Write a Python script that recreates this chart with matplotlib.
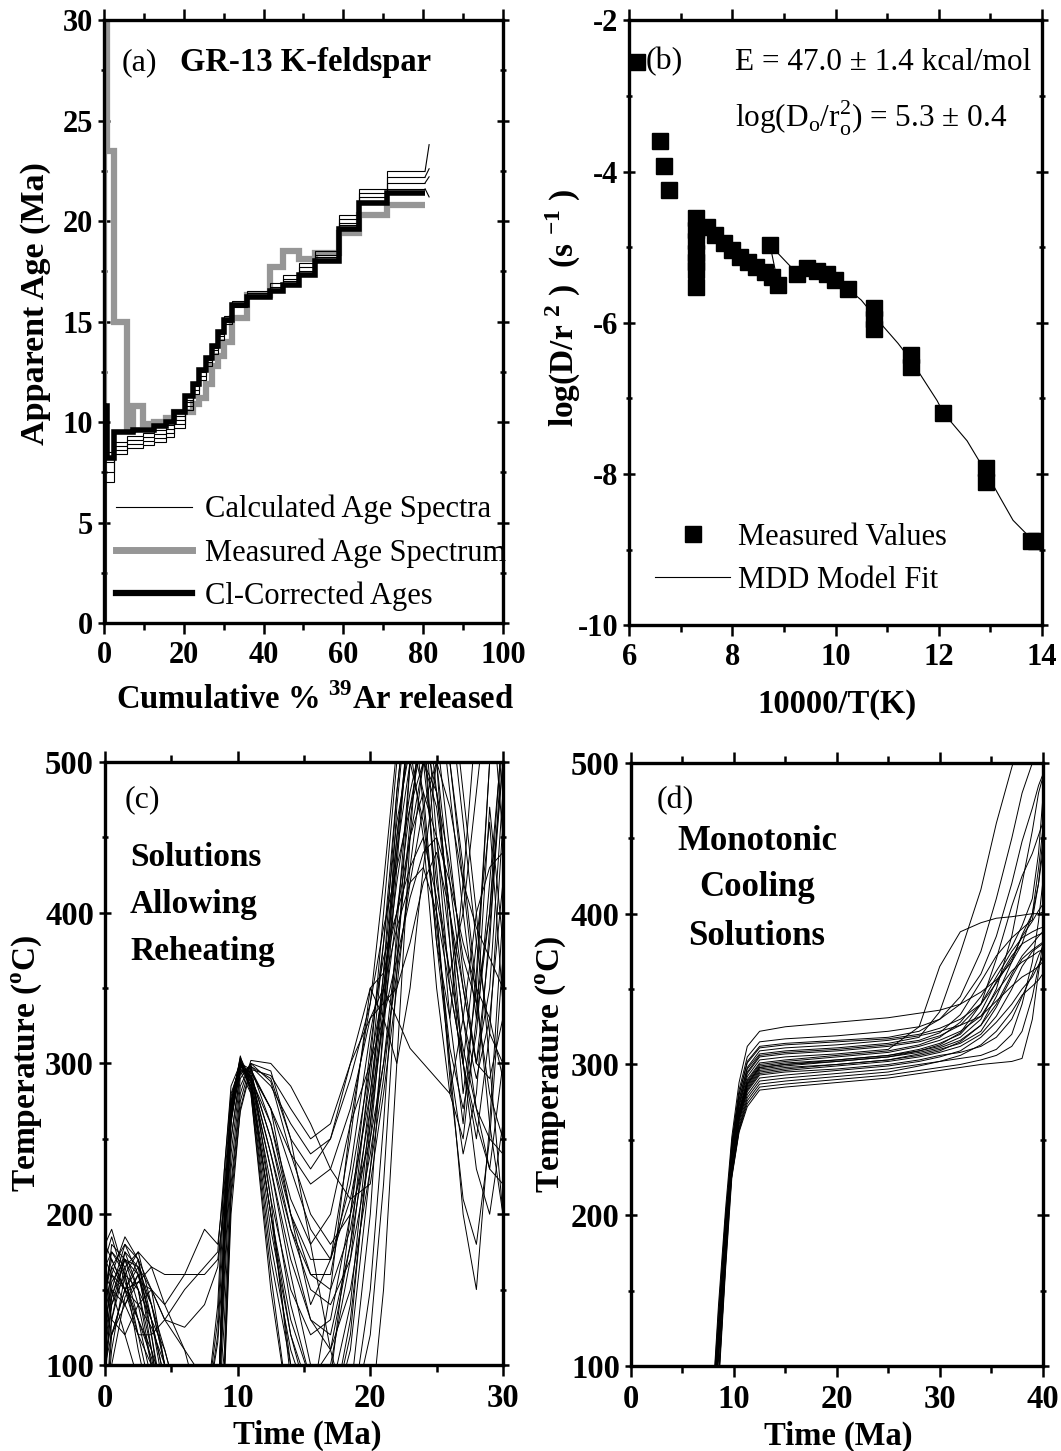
import matplotlib
matplotlib.use('Agg')
import matplotlib.pyplot as plt
from matplotlib.ticker import MultipleLocator
from matplotlib.lines import Line2D

plt.rcParams['font.family'] = ['Liberation Serif', 'DejaVu Serif']
plt.rcParams['font.weight'] = 'bold'
plt.rcParams['axes.labelweight'] = 'bold'
plt.rcParams['mathtext.fontset'] = 'custom'
plt.rcParams['mathtext.rm'] = 'Liberation Serif'
plt.rcParams['mathtext.bf'] = 'Liberation Serif:bold'
plt.rcParams['axes.unicode_minus'] = False

############ (a) age spectra ############
# heating step boundaries, cumulative % 39Ar
step_edges = [0, 0.8, 2.5, 5.8, 7.3, 9.8, 12.5, 15.5, 17.5, 20.3, 22.3, 23.8, 25.5, 27,
              28.7, 30, 32, 35.8, 41.6, 45, 49, 53, 59, 64, 71, 80.5]
meas_age = [31, 23.5, 15.0, 9.6, 10.8, 9.9, 10.0, 10.2, 10.5, 10.5, 10.9, 11.2, 11.9,
            12.8, 13.3, 14.0, 15.2, 16.3, 17.7, 18.5, 18.1, 18.4, 19.4, 20.3, 20.8]
cl_age = [10.8, 8.2, 9.5, 9.5, 9.6, 9.6, 9.8, 10.0, 10.5, 11.3, 11.9, 12.6, 13.2,
          13.8, 14.5, 15.1, 15.8, 16.2, 16.5, 16.8, 17.3, 18.0, 19.6, 20.9, 21.4]
calc_age_1 = [7.0, 7.0, 8.4, 8.7, 8.7, 8.85, 9.0, 9.25, 9.7, 10.6, 11.4, 12.1, 12.8,
              13.4, 14.1, 14.9, 15.7, 16.2, 16.5, 16.9, 17.4, 18.1, 19.8, 21.0, 21.6]
calc_age_2 = [7.5, 7.5, 8.6, 8.9, 8.9, 9.05, 9.2, 9.45, 9.9, 10.8, 11.6, 12.3, 13.0,
              13.6, 14.3, 15.0, 15.8, 16.3, 16.6, 17.0, 17.5, 18.2, 19.9, 21.2, 21.9]
calc_age_3 = [8.0, 8.0, 8.8, 9.1, 9.1, 9.25, 9.4, 9.65, 10.1, 11.0, 11.8, 12.5, 13.1,
              13.7, 14.4, 15.1, 15.9, 16.4, 16.7, 17.1, 17.7, 18.3, 20.1, 21.4, 22.2]
calc_age_4 = [8.5, 8.5, 9.0, 9.3, 9.3, 9.45, 9.6, 9.85, 10.3, 11.1, 11.9, 12.6, 13.3,
              13.9, 14.6, 15.3, 16.0, 16.5, 16.9, 17.3, 17.9, 18.5, 20.3, 21.6, 22.5]
calc_tail_x = 81.5
calc_tail = [21.2, 22.2, 22.6, 23.8]

############ (b) Arrhenius data ############
arr_x = [6.15, 6.60, 6.68, 6.78, 7.29, 7.29, 7.29, 7.29, 7.29, 7.29, 7.29, 7.50, 7.67,
         7.83, 8.00, 8.15, 8.31, 8.46, 8.64, 8.77, 8.89, 8.73, 9.26, 9.45, 9.64, 9.83,
         9.99, 10.24, 10.75, 10.75, 10.75, 11.47, 11.47, 12.09, 12.92, 12.92, 13.78, 13.88]
arr_y = [-2.55, -3.59, -3.93, -4.24, -4.62, -4.77, -4.92, -5.07, -5.2, -5.3, -5.52, -4.73,
         -4.84, -4.95, -5.04, -5.13, -5.2, -5.26, -5.33, -5.40, -5.5, -4.97, -5.35, -5.28,
         -5.31, -5.35, -5.44, -5.55, -5.8, -5.95, -6.08, -6.42, -6.58, -7.19, -7.92, -8.1,
         -8.88, -8.88]
mdd_x = [7.3, 7.5, 7.8, 8.1, 8.4, 8.64, 8.77, 8.89, 8.73, 9.26, 9.45, 9.64, 9.83, 9.99,
         10.24, 10.5, 10.8, 11.21, 11.47, 11.97, 12.09, 12.55, 12.92, 13.19, 13.44, 13.83]
mdd_y = [-4.6, -4.74, -4.93, -5.1, -5.25, -5.33, -5.40, -5.5, -4.97, -5.35, -5.28, -5.31,
         -5.35, -5.44, -5.55, -5.7, -5.95, -6.27, -6.5, -7.03, -7.19, -7.56, -7.98, -8.31,
         -8.61, -8.88]

############ (c) thermal histories allowing reheating ############
time_c = [0, 0.5, 1.5, 2.5, 3.5, 4.5, 6, 7.5, 8.5, 9.0, 9.5, 10.2, 11, 12.5, 14, 15.5,
          17, 18.5, 20, 21, 22, 23, 24, 25, 26, 27, 28, 29, 30]
reheat_paths = [
    [150, 175, 165, 130, 90, 60, 60, 60, 60, 180, 265, 300, 285, 200, 120, 70, 150, 260, 340, 420, 510, 560, 470, 380, 330, 420, 530, 560, 450],
    [120, 160, 185, 170, 120, 70, 60, 60, 60, 200, 275, 302, 290, 240, 180, 130, 120, 180, 260, 330, 440, 540, 560, 500, 420, 350, 300, 380, 520],
    [100, 140, 170, 160, 140, 100, 60, 60, 120, 200, 250, 295, 295, 270, 230, 190, 170, 210, 280, 350, 420, 480, 520, 560, 540, 460, 380, 320, 300],
    [60, 130, 175, 150, 100, 60, 60, 60, 60, 150, 240, 290, 300, 210, 90, 60, 60, 130, 250, 340, 450, 530, 500, 420, 360, 400, 480, 560, 560],
    [180, 190, 160, 110, 70, 60, 60, 60, 60, 190, 270, 305, 280, 150, 60, 60, 90, 200, 310, 380, 460, 510, 450, 350, 280, 250, 330, 470, 380],
    [140, 120, 150, 165, 150, 130, 150, 165, 175, 230, 280, 298, 290, 260, 210, 180, 200, 260, 300, 330, 370, 410, 440, 450, 420, 380, 350, 330, 290],
    [60, 110, 160, 175, 165, 140, 160, 190, 180, 220, 278, 300, 288, 230, 160, 100, 60, 60, 120, 220, 360, 500, 560, 480, 400, 300, 250, 320, 460],
    [130, 165, 150, 155, 165, 160, 160, 160, 170, 205, 270, 296, 292, 250, 190, 150, 140, 170, 240, 300, 380, 450, 500, 470, 400, 330, 270, 230, 300],
    [110, 150, 140, 120, 100, 60, 60, 60, 60, 90, 200, 270, 298, 290, 250, 230, 250, 300, 350, 360, 400, 450, 480, 450, 380, 300, 230, 200, 260],
    [160, 150, 120, 90, 60, 60, 60, 60, 60, 185, 262, 297, 285, 200, 130, 90, 110, 180, 300, 400, 500, 560, 540, 430, 330, 260, 360, 500, 560],
    [90, 145, 170, 150, 110, 80, 60, 60, 60, 175, 260, 299, 294, 270, 240, 220, 230, 270, 330, 350, 330, 310, 300, 290, 280, 330, 400, 430, 440],
    [170, 160, 140, 160, 130, 90, 60, 60, 60, 195, 272, 303, 282, 170, 100, 60, 60, 80, 200, 330, 470, 560, 530, 400, 300, 200, 150, 260, 400],
    [100, 130, 165, 175, 140, 110, 60, 60, 130, 215, 265, 294, 298, 285, 260, 240, 250, 290, 340, 390, 430, 470, 500, 480, 430, 370, 340, 400, 500],
    [150, 170, 150, 120, 120, 130, 125, 140, 165, 210, 275, 300, 287, 210, 150, 120, 130, 200, 290, 380, 480, 560, 560, 450, 350, 300, 380, 460, 340],
    [120, 145, 175, 165, 110, 60, 60, 60, 60, 180, 265, 298, 292, 240, 190, 160, 160, 230, 320, 370, 400, 430, 450, 410, 360, 310, 270, 250, 240],
    [60, 120, 150, 170, 150, 100, 60, 60, 60, 95, 210, 268, 296, 292, 270, 250, 260, 300, 330, 340, 350, 380, 420, 440, 400, 350, 300, 290, 330],
    [140, 180, 170, 140, 100, 70, 60, 60, 60, 190, 268, 301, 283, 180, 110, 70, 60, 110, 230, 320, 430, 540, 560, 520, 440, 360, 300, 350, 480],
    [130, 150, 180, 160, 120, 60, 60, 60, 60, 175, 262, 299, 291, 230, 170, 130, 110, 150, 230, 290, 370, 460, 540, 560, 500, 420, 340, 280, 250],
    [170, 185, 155, 130, 105, 60, 60, 60, 60, 200, 273, 304, 289, 220, 140, 90, 80, 140, 270, 360, 480, 560, 520, 400, 290, 210, 180, 250, 370],
    [110, 140, 160, 150, 130, 110, 60, 60, 60, 100, 215, 275, 300, 288, 240, 200, 180, 200, 250, 300, 360, 420, 470, 500, 470, 420, 390, 370, 350],
    [150, 165, 180, 170, 130, 80, 60, 60, 60, 185, 264, 299, 288, 200, 100, 60, 60, 120, 260, 350, 440, 500, 460, 390, 310, 270, 320, 420, 520],
    [100, 120, 140, 155, 150, 130, 110, 90, 60, 160, 250, 293, 297, 260, 200, 160, 150, 190, 270, 330, 400, 470, 520, 480, 400, 330, 290, 330, 420],
    [165, 175, 160, 120, 80, 60, 60, 60, 60, 195, 270, 300, 285, 190, 120, 80, 100, 170, 280, 360, 450, 520, 480, 380, 300, 240, 280, 390, 500],
    [125, 155, 170, 165, 140, 100, 60, 60, 115, 180, 263, 300, 293, 250, 200, 170, 170, 220, 300, 350, 390, 420, 430, 400, 350, 300, 260, 230, 220],
    [140, 160, 150, 130, 110, 60, 60, 60, 60, 130, 230, 285, 300, 295, 250, 180, 110, 60, 60, 150, 300, 450, 560, 500, 380, 280, 350, 500, 560],
    [160, 130, 120, 140, 125, 100, 60, 60, 140, 230, 285, 300, 296, 270, 200, 140, 170, 250, 350, 330, 300, 350, 430, 500, 560, 480, 400, 300, 200],
    [60, 100, 145, 160, 130, 90, 60, 60, 60, 110, 220, 280, 302, 300, 285, 260, 230, 210, 220, 280, 350, 430, 500, 540, 500, 430, 350, 260, 200],
    [180, 170, 150, 140, 150, 140, 110, 60, 60, 190, 268, 295, 280, 160, 60, 60, 60, 60, 150, 260, 390, 500, 560, 560, 480, 400, 330, 400, 530],
]

############ (d) monotonic cooling histories ############
time_d = [7.6, 8.5, 9.2, 9.8, 10.5, 11.3, 12.5, 15, 20, 25, 28, 30, 32, 34, 35.5, 37,
          38, 39, 39.6, 40]
cooling_paths = [
    [40, 140, 205, 252, 288, 312, 322, 325, 328, 331, 334, 336, 340, 348, 356, 368, 380, 400, 430, 455],
    [40, 95, 175, 246, 280, 302, 312, 314, 316, 318, 322, 330, 345, 375, 410, 450, 480, 500, 520, 540],
    [40, 130, 200, 243, 276, 297, 307, 309, 311, 314, 318, 335, 374, 416, 460, 497, 520, 540, 560, 580],
    [40, 115, 190, 240, 272, 292, 303, 305, 307, 310, 325, 365, 388, 394, 397, 398, 399, 400, 400, 401],
    [40, 88, 170, 237, 268, 288, 299, 301, 303, 306, 309, 312, 318, 330, 350, 385, 420, 455, 480, 490],
    [40, 110, 185, 235, 266, 286, 297, 299, 302, 305, 308, 311, 316, 326, 340, 360, 372, 380, 385, 388],
    [40, 108, 182, 232, 263, 283, 294, 296, 299, 302, 305, 308, 312, 320, 332, 350, 365, 375, 378, 380],
    [40, 120, 190, 230, 260, 280, 291, 293, 296, 299, 302, 305, 309, 318, 328, 340, 350, 358, 366, 371],
    [40, 104, 177, 227, 257, 276, 287, 289, 292, 295, 299, 302, 306, 313, 322, 335, 346, 352, 356, 360],
    [40, 85, 165, 225, 255, 272, 283, 285, 288, 291, 294, 296, 298, 300, 301, 302, 304, 330, 361, 380],
    [40, 114, 189, 239, 270, 290, 301, 303, 306, 309, 313, 318, 328, 345, 362, 378, 392, 410, 440, 475],
    [40, 116, 191, 242, 274, 295, 306, 308, 310, 313, 316, 321, 333, 355, 372, 384, 390, 396, 420, 448],
    [40, 135, 200, 236, 267, 287, 298, 300, 303, 306, 310, 314, 320, 335, 355, 372, 380, 384, 386, 387],
    [40, 109, 184, 234, 265, 285, 296, 298, 300, 303, 307, 310, 314, 322, 338, 358, 370, 376, 379, 381],
    [40, 117, 193, 244, 277, 298, 309, 311, 313, 316, 319, 322, 326, 332, 342, 352, 358, 362, 365, 368],
    [40, 113, 188, 238, 269, 289, 300, 302, 305, 308, 312, 316, 322, 332, 348, 362, 368, 372, 375, 376],
    [40, 107, 181, 231, 262, 282, 293, 295, 297, 300, 303, 306, 308, 312, 318, 330, 345, 360, 372, 378],
    [40, 119, 195, 247, 280, 301, 311, 313, 315, 317, 320, 324, 330, 340, 354, 370, 385, 395, 402, 406],
    [40, 90, 168, 228, 258, 278, 289, 291, 294, 297, 300, 302, 304, 306, 310, 320, 340, 368, 395, 420],
    [40, 121, 197, 249, 283, 305, 315, 317, 319, 322, 325, 330, 340, 360, 385, 420, 448, 470, 485, 492],
    [40, 125, 195, 226, 256, 274, 285, 287, 290, 293, 296, 298, 300, 303, 306, 312, 322, 345, 365, 372],
    [40, 115, 190, 241, 273, 294, 305, 307, 309, 312, 315, 319, 326, 340, 358, 375, 384, 388, 390, 391],
    [40, 110, 184, 234, 264, 284, 295, 297, 300, 303, 306, 309, 315, 326, 345, 368, 386, 400, 420, 440],
    [40, 112, 186, 236, 267, 287, 298, 300, 302, 305, 309, 313, 321, 340, 370, 405, 425, 440, 452, 460],
]

GRAY = '#969696'
LEG_FONT = dict(family='Liberation Serif', weight='normal', size=22)


def style_axes(ax, xmaj, xmin, ymaj, ymin, size):
    for sp in ax.spines.values():
        sp.set_linewidth(2.4)
    ax.xaxis.set_major_locator(MultipleLocator(xmaj))
    ax.xaxis.set_minor_locator(MultipleLocator(xmin))
    ax.yaxis.set_major_locator(MultipleLocator(ymaj))
    ax.yaxis.set_minor_locator(MultipleLocator(ymin))
    ax.tick_params(which='both', top=True, right=True, labeltop=False, labelright=False,
                   width=1.8, labelsize=size)
    ax.tick_params(axis='x', which='both', direction='out', pad=5)
    ax.tick_params(axis='y', which='both', direction='inout', pad=4)
    ax.tick_params(which='major', length=8)
    ax.tick_params(which='minor', length=5)


fig = plt.figure(figsize=(10.61, 14.51), dpi=100)
ax_a = fig.add_axes([0.098, 0.5706, 0.376, 0.4156])
ax_b = fig.add_axes([0.593, 0.569, 0.389, 0.417])
ax_c = fig.add_axes([0.099, 0.0593, 0.375, 0.4156])
ax_d = fig.add_axes([0.5947, 0.0586, 0.388, 0.4156])

# ---- (a) ----
ax_a.stairs(meas_age, step_edges, baseline=None, color=GRAY, lw=4.5, zorder=2)
ax_a.plot([step_edges[0]] * 2, [0, meas_age[0]], color=GRAY, lw=4.5, zorder=2)
ax_a.stairs(cl_age, step_edges, baseline=None, color='black', lw=4, zorder=3)
ax_a.plot([step_edges[0]] * 2, [0, cl_age[0]], color='black', lw=4, zorder=3)
for ages, tail in zip([calc_age_1, calc_age_2, calc_age_3, calc_age_4], calc_tail):
    ax_a.stairs(ages, step_edges, baseline=None, color='black', lw=0.8, zorder=4)
    ax_a.plot([step_edges[-1], calc_tail_x], [ages[-1], tail], color='black', lw=0.8, zorder=4)

ax_a.set_xlim(0, 100)
ax_a.set_ylim(0, 30)
style_axes(ax_a, 20, 10, 5, 2.5, 22)
ax_a.set_ylabel('Apparent Age (Ma)', fontsize=24.5)
ax_a.yaxis.set_label_coords(-0.133, 0.53)
ax_a.set_xlabel('Cumulative % $^\\mathregular{39}$Ar released', fontsize=23.5)
ax_a.xaxis.set_label_coords(0.53, -0.1)
ax_a.text(0.045, 0.93, '(a)', transform=ax_a.transAxes, va='center', fontweight='normal',
          fontsize=23)
ax_a.text(0.19, 0.93, 'GR-13 K-feldspar', transform=ax_a.transAxes, va='center', fontsize=23.5)

handles_a = [Line2D([], [], color='black', lw=0.8, label='Calculated Age Spectra'),
             Line2D([], [], color=GRAY, lw=5, label='Measured Age Spectrum'),
             Line2D([], [], color='black', lw=4.5, label='Cl-Corrected Ages')]
ax_a.legend(handles=handles_a, loc='lower left', bbox_to_anchor=(0.03, 0.02), frameon=False,
            borderaxespad=0, borderpad=0, handlelength=2.5, handletextpad=0.4,
            labelspacing=0.45, prop=LEG_FONT)

# ---- (b) ----
ax_b.plot(mdd_x, mdd_y, color='black', lw=0.8, zorder=2)
ax_b.plot(arr_x, arr_y, 's', color='black', ms=11, zorder=3)
ax_b.set_xlim(6, 14)
ax_b.set_ylim(-10, -2)
style_axes(ax_b, 2, 1, 2, 1, 22)
ax_b.set_ylabel('log(D/r $^\\mathregular{2}$ )  (s $^\\mathregular{-1}$ )', fontsize=24)
ax_b.yaxis.set_label_coords(-0.112, 0.525)
ax_b.set_xlabel('10000/T(K)', fontsize=23.5)
ax_b.xaxis.set_label_coords(0.504, -0.105)
ax_b.text(0.039, 0.931, '(b)', transform=ax_b.transAxes, va='center', fontweight='normal',
          fontsize=23)
ax_b.text(0.257, 0.931, 'E = 47.0 \u00b1 1.4 kcal/mol', transform=ax_b.transAxes,
          va='center', fontweight='normal', fontsize=22.5)
ax_b.text(0.257, 0.838,
          'log(D$_\\mathregular{o}$/r$_\\mathregular{o}^\\mathregular{2}$) = 5.3 \u00b1 0.4',
          transform=ax_b.transAxes, va='center', fontweight='normal', fontsize=22.5)

handles_b = [Line2D([], [], marker='s', ms=11, color='black', ls='none', label='Measured Values'),
             Line2D([], [], color='black', lw=0.8, label='MDD Model Fit')]
ax_b.legend(handles=handles_b, loc='lower left', bbox_to_anchor=(0.063, 0.05), frameon=False,
            borderaxespad=0, borderpad=0, handlelength=2.45, handletextpad=0.25,
            labelspacing=0.47, prop=LEG_FONT)

# ---- (c) ----
for temps in reheat_paths:
    ax_c.plot(time_c, temps, color='black', lw=0.7)
ax_c.set_xlim(0, 30)
ax_c.set_ylim(100, 500)
style_axes(ax_c, 10, 5, 100, 50, 23.5)
ax_c.set_ylabel('Temperature ($^\\mathregular{o}$C)', fontsize=24)
ax_c.yaxis.set_label_coords(-0.153, 0.5)
ax_c.set_xlabel('Time (Ma)', fontsize=23.5)
ax_c.xaxis.set_label_coords(0.507, -0.091)
ax_c.text(0.05, 0.937, '(c)', transform=ax_c.transAxes, va='center', fontweight='normal',
          fontsize=23)
for label, yy in zip(['Solutions', 'Allowing', 'Reheating'], [0.841, 0.763, 0.685]):
    ax_c.text(0.063, yy, label, transform=ax_c.transAxes, va='center', fontsize=24)

# ---- (d) ----
for temps in cooling_paths:
    ax_d.plot(time_d, temps, color='black', lw=0.7)
ax_d.set_xlim(0, 40)
ax_d.set_ylim(100, 500)
style_axes(ax_d, 10, 5, 100, 50, 23.5)
ax_d.set_ylabel('Temperature ($^\\mathregular{o}$C)', fontsize=24)
ax_d.yaxis.set_label_coords(-0.152, 0.5)
ax_d.set_xlabel('Time (Ma)', fontsize=23.5)
ax_d.xaxis.set_label_coords(0.503, -0.091)
ax_d.text(0.063, 0.937, '(d)', transform=ax_d.transAxes, va='center', fontweight='normal',
          fontsize=23)
for label, yy in zip(['Monotonic', 'Cooling', 'Solutions'], [0.869, 0.793, 0.713]):
    ax_d.text(0.306, yy, label, transform=ax_d.transAxes, ha='center', va='center', fontsize=25)

fig.savefig('out.png', dpi=100)
